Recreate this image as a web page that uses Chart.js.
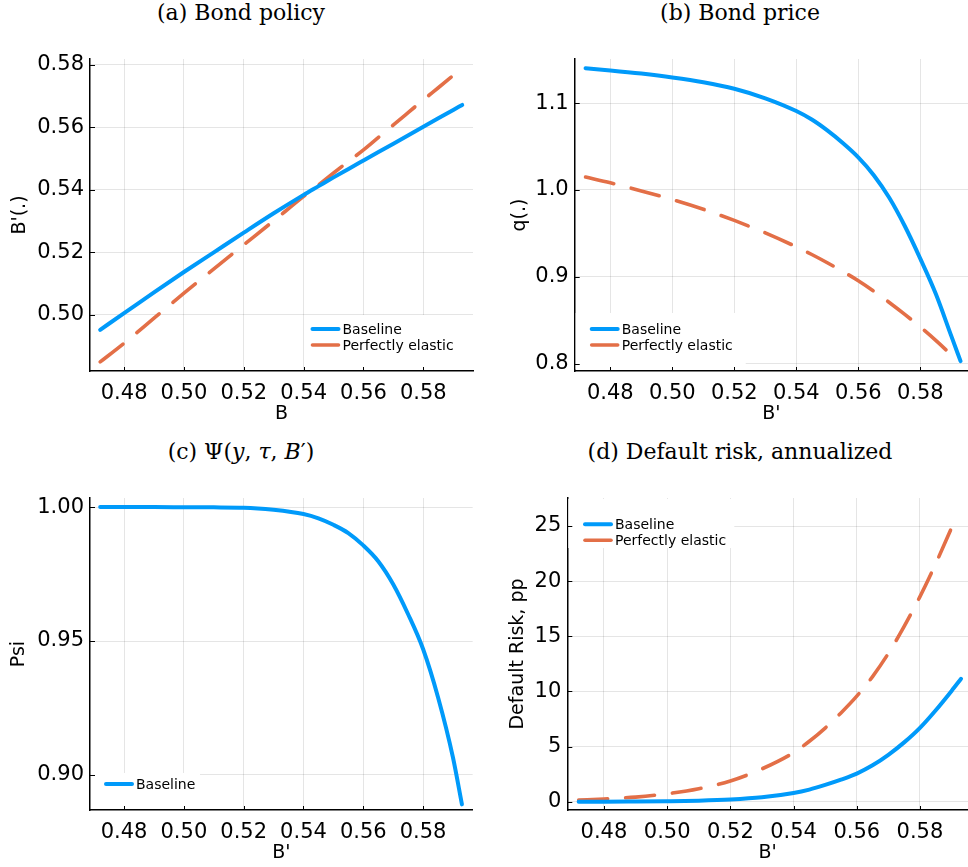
<!DOCTYPE html>
<html><head><meta charset="utf-8">
<script src="https://cdn.jsdelivr.net/npm/chart.js@4.4.1/dist/chart.umd.min.js"></script>
<style>
html,body{margin:0;padding:0;background:#fff;width:968px;height:867px;overflow:hidden;}
.panel{position:absolute;width:484px;height:428px;}
.ttl{position:absolute;width:400px;text-align:center;font-family:'DejaVu Serif',serif;font-size:22px;line-height:22px;color:#000;white-space:nowrap;}
</style></head><body>
<div class="ttl" style="left:41px;top:2px">(a) Bond policy</div>
<div class="ttl" style="left:540px;top:2px">(b) Bond price</div>
<div class="ttl" style="left:41px;top:441px">(c) Ψ(<i>y</i>, <i>τ</i>, <i>B</i>′)</div>
<div class="ttl" style="left:540px;top:441px">(d) Default risk, annualized</div>
<div class="panel" style="left:0;top:0"><canvas id="ca" width="484" height="428"></canvas></div>
<div class="panel" style="left:484px;top:0"><canvas id="cb" width="484" height="428"></canvas></div>
<div class="panel" style="left:0;top:439px"><canvas id="cc" width="484" height="428"></canvas></div>
<div class="panel" style="left:484px;top:439px"><canvas id="cd" width="484" height="428"></canvas></div>
<script>
// ---- data ----
const xGrid    = [0.472,0.48,0.49,0.50,0.51,0.52,0.53,0.54,0.545,0.55,0.555,0.56,0.565,0.57,0.575,0.58,0.585,0.59,0.593];
const xElastic = [0.472,0.48,0.49,0.50,0.51,0.52,0.53,0.54,0.545,0.55,0.555,0.56,0.565,0.57,0.575,0.58,0.585,0.591];
const policyBaseline = [0.4952,0.5005,0.5072,0.5137,0.5200,0.5263,0.5325,0.5384,0.5412,0.5440,0.5467,0.5494,0.5521,0.5548,0.5575,0.5602,0.5629,0.5656,0.5672];
const policyElastic  = [0.4849,0.4909,0.4989,0.5069,0.5147,0.5224,0.5301,0.5379,0.5416,0.5454,0.5491,0.5528,0.5568,0.5608,0.5648,0.5688,0.5727,0.5774];
const priceBaseline  = [1.1400,1.1375,1.1339,1.1295,1.1240,1.1165,1.1055,1.0908,1.0810,1.0685,1.0540,1.0375,1.0170,0.9910,0.9585,0.9210,0.8805,0.8320,0.8030];
const priceElastic   = [1.0148,1.0082,0.9989,0.9889,0.9777,0.9649,0.9506,0.9345,0.9257,0.9162,0.9062,0.8955,0.8835,0.8705,0.8568,0.8423,0.8268,0.8069];
const psiBaseline    = [1.0000,1.0000,1.0000,0.99995,0.9999,0.9998,0.9990,0.9974,0.9958,0.9934,0.9903,0.9857,0.9798,0.9712,0.9600,0.9470,0.9290,0.9065,0.8890];
const riskBaseline   = [0.0,0.0,0.02,0.05,0.1,0.2,0.4,0.79,1.1,1.52,2.0,2.55,3.3,4.25,5.38,6.7,8.3,10.05,11.15];
const riskElastic    = [0.15,0.25,0.42,0.72,1.18,1.88,2.98,4.45,5.48,6.68,8.05,9.57,11.35,13.45,15.9,18.6,21.6,25.49];
const xTicks      = [0.48,0.50,0.52,0.54,0.56,0.58];
const policyTicks = [0.50,0.52,0.54,0.56,0.58];
const priceTicks  = [0.8,0.9,1.0,1.1];
const psiTicks    = [0.90,0.95,1.00];
const riskTicks   = [0,5,10,15,20,25];
const labelBaseline = 'Baseline';
const labelElastic = 'Perfectly elastic';

const BLUE = 'rgb(0,154,250)';
const ORANGE = 'rgb(227,111,71)';

function pts(xs, arr){ return xs.map((x,i)=>({x:x, y:arr[i]})); }
function dsBase(arr){ return {label:labelBaseline, data:pts(xGrid, arr), borderColor:BLUE, borderWidth:4, pointRadius:0, cubicInterpolationMode:'monotone', borderCapStyle:'round', borderJoinStyle:'round'}; }
function dsElastic(arr){ return {label:labelElastic, data:pts(xElastic, arr), borderColor:ORANGE, borderWidth:3.6, pointRadius:0, cubicInterpolationMode:'monotone', borderDash:[29,18], borderCapStyle:'round', borderJoinStyle:'round'}; }

const inLegend = {
  id:'inlegend',
  afterDatasetsDraw(chart, args, o){
    const a = chart.chartArea, ctx = chart.ctx;
    const bx = a.left + o.x, by = a.top + o.y;
    ctx.save();
    ctx.fillStyle = '#fff';
    ctx.fillRect(bx, by, o.w, o.h);
    ctx.font = '14px "DejaVu Sans"';
    ctx.textBaseline = 'middle';
    ctx.textAlign = 'left';
    chart.data.datasets.forEach((d,i)=>{
      const yy = by + o.row + i*16;
      ctx.beginPath();
      ctx.strokeStyle = d.borderColor;
      ctx.lineWidth = d.borderWidth;
      ctx.lineCap = 'round';
      ctx.setLineDash(d.borderDash || []);
      ctx.moveTo(bx + o.lx, yy);
      ctx.lineTo(bx + o.lx + 26, yy);
      ctx.stroke();
      ctx.setLineDash([]);
      ctx.fillStyle = '#000';
      ctx.fillText(d.label, bx + o.lx + 30, yy + 1);
    });
    ctx.restore();
  }
};
const inTicks = {
  id:'inticks',
  afterDraw(chart){
    const a = chart.chartArea, ctx = chart.ctx, xs = chart.scales.x, ys = chart.scales.y;
    ctx.save(); ctx.strokeStyle = '#000'; ctx.lineWidth = 1;
    xs.ticks.forEach(t=>{ const p = Math.round(xs.getPixelForValue(t.value))+0.5; ctx.beginPath(); ctx.moveTo(p, a.bottom); ctx.lineTo(p, a.bottom-4); ctx.stroke(); });
    ys.ticks.forEach(t=>{ const p = Math.round(ys.getPixelForValue(t.value))+0.5; ctx.beginPath(); ctx.moveTo(a.left, p); ctx.lineTo(a.left+5, p); ctx.stroke(); });
    ctx.restore();
  }
};

function makeChart(id, c){
  const gridColor = 'rgba(0,0,0,0.1)';
  return new Chart(document.getElementById(id), {
    type:'line',
    data:{datasets:c.datasets},
    plugins:[inLegend, inTicks],
    options:{
      responsive:false, animation:false, devicePixelRatio:1,
      layout:{padding:{left:0, top:59, right:484-c.right, bottom:0}},
      plugins:{legend:{display:false}, tooltip:{enabled:false}, inlegend:c.legend},
      scales:{
        x:{type:'linear', min:c.xMin, max:c.xMax,
          afterBuildTicks:s=>{ s.ticks = xTicks.map(v=>({value:v})); },
          afterFit:s=>{ s.height = 57; },
          grid:{color:gridColor, lineWidth:1, drawTicks:false},
          border:{display:true, color:'#000', width:1.5},
          ticks:{padding:10, color:'#000', font:{family:'DejaVu Sans', size:21}, maxRotation:0, autoSkip:false, callback:v=>v.toFixed(2)},
          title:{display:true, text:c.xTitle, color:'#000', font:{family:'DejaVu Sans', size:19}, padding:{top:0, bottom:2.5}}
        },
        y:{type:'linear', min:c.yMin, max:c.yMax,
          afterBuildTicks:s=>{ s.ticks = c.yTicks.map(v=>({value:v})); },
          afterFit:s=>{ s.width = c.left; },
          grid:{color:gridColor, lineWidth:1, drawTicks:false},
          border:{display:true, color:'#000', width:1.5},
          ticks:{padding:6, color:'#000', font:{family:'DejaVu Sans', size:21}, autoSkip:false, callback:v=>v.toFixed(c.yDigits)},
          title:{display:true, text:c.yTitle, color:'#000', font:{family:'DejaVu Sans', size:19}, padding:{top:c.yTitlePad, bottom:0}}
        }
      }
    }
  });
}

makeChart('ca', {datasets:[dsBase(policyBaseline), dsElastic(policyElastic)],
  left:90, right:473, xMin:0.4686, xMax:0.5966, yMin:0.482, yMax:0.5819, yTicks:policyTicks, yDigits:2,
  xTitle:'B', yTitle:"B'(.)", yTitlePad:8.6,
  legend:{x:219.5, y:256, w:163.5, h:55, row:14, lx:3}});
makeChart('cb', {datasets:[dsBase(priceBaseline), dsElastic(priceElastic)],
  left:90.7, right:484, xMin:0.4685, xMax:0.5954, yMin:0.7916, yMax:1.1507, yTicks:priceTicks, yDigits:1,
  xTitle:"B'", yTitle:'q(.)', yTitlePad:24.6,
  legend:{x:1, y:254, w:170, h:56, row:16, lx:16}});
makeChart('cc', {datasets:[dsBase(psiBaseline)],
  left:90, right:472.7, xMin:0.4686, xMax:0.5966, yMin:0.8869, yMax:1.0034, yTicks:psiTicks, yDigits:2,
  xTitle:"B'", yTitle:'Psi', yTitlePad:7.9,
  legend:{x:1, y:275, w:109, h:36, row:11, lx:15}});
makeChart('cd', {datasets:[dsBase(riskBaseline), dsElastic(riskElastic)],
  left:83.3, right:484, xMin:0.4684, xMax:0.5952, yMin:-0.75, yMax:27.54, yTicks:riskTicks, yDigits:0,
  xTitle:"B'", yTitle:'Default Risk, pp', yTitlePad:22.9,
  legend:{x:1, y:1, w:166, h:49, row:25.3, lx:16.7}});
</script>
</body></html>
